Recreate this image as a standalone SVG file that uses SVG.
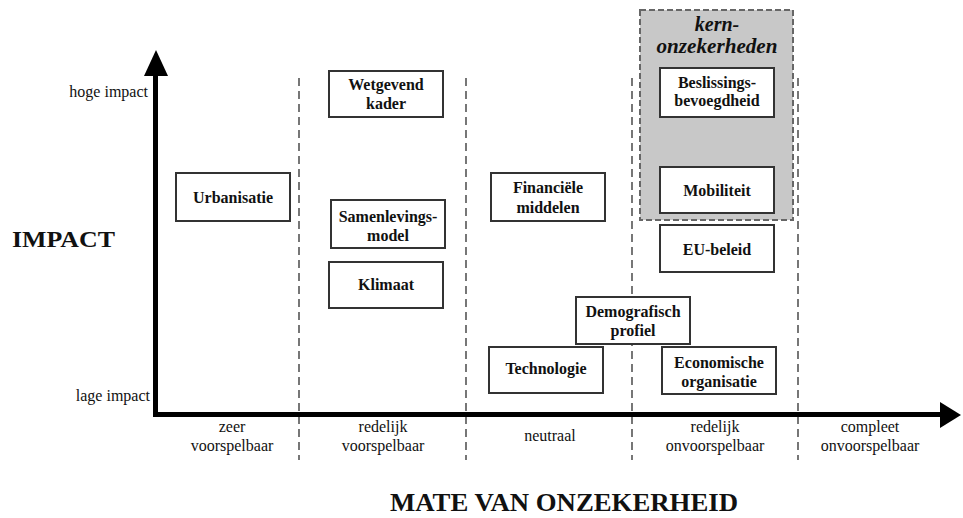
<svg xmlns="http://www.w3.org/2000/svg" width="963" height="518" viewBox="0 0 963 518">
<style>
.t{font-family:"Liberation Serif","Times New Roman",serif;fill:#111}
.lbl{font-size:16px;text-anchor:middle}
.bx{fill:#fff;stroke:#333;stroke-width:2}
.bt{font-size:16px;font-weight:bold;text-anchor:middle}
.dl{stroke:#555;stroke-width:1.6;stroke-dasharray:8 5;fill:none}
</style>
<rect width="963" height="518" fill="#fff"/>
<g id="columns">
<line class="dl" x1="299" y1="78" x2="299" y2="460"/>
<line class="dl" x1="466" y1="78" x2="466" y2="460"/>
<line class="dl" x1="632" y1="78" x2="632" y2="460"/>
<line class="dl" x1="798" y1="78" x2="798" y2="460"/>
</g>
<g id="kern">
<rect x="640" y="10" width="153" height="210" fill="#c8c8c8" stroke="#666" stroke-width="2" stroke-dasharray="6 3"/>
<text class="t" x="717" y="31" font-size="20" font-weight="bold" font-style="italic" text-anchor="middle">kern-</text>
<text class="t" x="717" y="53" font-size="20" font-weight="bold" font-style="italic" text-anchor="middle" textLength="121" lengthAdjust="spacingAndGlyphs">onzekerheden</text>
</g>
<g id="axes">
<line x1="155.5" y1="70" x2="155.5" y2="417" stroke="#000" stroke-width="5"/>
<polygon points="156,50 144,76 168,76" fill="#000"/>
<line x1="153" y1="414.5" x2="945" y2="414.5" stroke="#000" stroke-width="5"/>
<polygon points="961,415 940,402 940,428" fill="#000"/>
</g>
<g id="axis-labels">
<text class="t" x="148" y="97" font-size="16" text-anchor="end">hoge impact</text>
<text class="t" x="150" y="401" font-size="16" text-anchor="end">lage impact</text>
<text class="t" x="12" y="247" font-size="23" font-weight="bold" textLength="103" lengthAdjust="spacingAndGlyphs">IMPACT</text>
<text class="t" x="390" y="511" font-size="25" font-weight="bold" textLength="348" lengthAdjust="spacingAndGlyphs">MATE VAN ONZEKERHEID</text>
<text class="t lbl" x="232" y="432">zeer</text>
<text class="t lbl" x="232" y="451">voorspelbaar</text>
<text class="t lbl" x="383" y="432">redelijk</text>
<text class="t lbl" x="383" y="451">voorspelbaar</text>
<text class="t lbl" x="550" y="441">neutraal</text>
<text class="t lbl" x="715" y="432">redelijk</text>
<text class="t lbl" x="715" y="451">onvoorspelbaar</text>
<text class="t lbl" x="870" y="432">compleet</text>
<text class="t lbl" x="870" y="451">onvoorspelbaar</text>
</g>
<g id="urbanisatie"><rect class="bx" x="176" y="173" width="114" height="48"/><text class="t bt" x="233" y="203">Urbanisatie</text></g>
<g id="wetgevend-kader"><rect class="bx" x="329" y="71" width="114" height="46"/><text class="t bt" x="386" y="90">Wetgevend</text><text class="t bt" x="386" y="109">kader</text></g>
<g id="samenlevingsmodel"><rect class="bx" x="331" y="200" width="114" height="48"/><text class="t bt" x="388" y="222">Samenlevings-</text><text class="t bt" x="388" y="241">model</text></g>
<g id="klimaat"><rect class="bx" x="329" y="262" width="114" height="46"/><text class="t bt" x="386" y="290">Klimaat</text></g>
<g id="financiele-middelen"><rect class="bx" x="491" y="173" width="114" height="48"/><text class="t bt" x="548" y="193">Financiële</text><text class="t bt" x="548" y="213">middelen</text></g>
<g id="technologie"><rect class="bx" x="489" y="347" width="114" height="46"/><text class="t bt" x="546" y="374">Technologie</text></g>
<g id="demografisch-profiel"><rect class="bx" x="576" y="297" width="114" height="47"/><text class="t bt" x="633" y="317">Demografisch</text><text class="t bt" x="633" y="336">profiel</text></g>
<g id="beslissingsbevoegdheid"><rect class="bx" x="660" y="68" width="114" height="49"/><text class="t bt" x="717" y="88">Beslissings-</text><text class="t bt" x="717" y="106">bevoegdheid</text></g>
<g id="mobiliteit"><rect class="bx" x="660" y="167" width="114" height="46"/><text class="t bt" x="717" y="196">Mobiliteit</text></g>
<g id="eu-beleid"><rect class="bx" x="660" y="225" width="114" height="47"/><text class="t bt" x="717" y="255">EU-beleid</text></g>
<g id="economische-organisatie"><rect class="bx" x="662" y="347" width="114" height="47"/><text class="t bt" x="719" y="368">Economische</text><text class="t bt" x="719" y="387">organisatie</text></g>
</svg>
